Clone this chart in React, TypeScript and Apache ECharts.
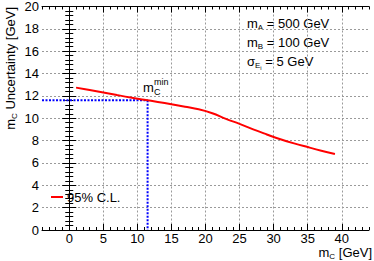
import React, { useEffect, useRef } from "react";
import * as echarts from "echarts";

const xMajor = [0, 5, 10, 15, 20, 25, 30, 35, 40];
const xMinor = [-4, -3, -2, -1, 1, 2, 3, 4, 6, 7, 8, 9, 11, 12, 13, 14, 16, 17, 18, 19, 21, 22, 23, 24, 26, 27, 28, 29, 31, 32, 33, 34, 36, 37, 38, 39, 41, 42, 43, 44];
const curveX = [1, 3, 5, 7, 9, 11, 13, 15, 17, 19, 21, 23, 25, 27, 29, 31, 33, 35, 37, 39];
const curveY = [12.74, 12.53, 12.31, 12.08, 11.86, 11.66, 11.46, 11.25, 11.03, 10.8, 10.45, 9.95, 9.5, 9.0, 8.55, 8.12, 7.75, 7.42, 7.1, 6.8];
const mcMinX = 11.5;
const mcMinY = 11.6;

const FONT = "Liberation Sans, Arial, Helvetica, sans-serif";

type Part = { t: string; size: number; dy: number };

export default function App() {
  const ref = useRef<HTMLDivElement>(null);
  useEffect(() => {
    document.body.style.margin = "0";
    const ctx = document.createElement("canvas").getContext("2d")!;
    const measure = (t: string, size: number) => {
      ctx.font = `${size}px ${FONT}`;
      return ctx.measureText(t).width;
    };
    const seq = (x: number, y: number, parts: Part[], align: "left" | "right" = "left") => {
      const total = parts.reduce((a, p) => a + measure(p.t, p.size), 0);
      let cur = align === "right" ? x - total : x;
      const out: any[] = [];
      for (const p of parts) {
        out.push({
          type: "text",
          x: cur,
          y: y + p.dy,
          style: { text: p.t, fontSize: p.size, fontFamily: FONT, fill: "#000", verticalAlign: "middle", align: "left" },
        });
        cur += measure(p.t, p.size);
      }
      return out;
    };

    const chart = echarts.init(ref.current!, null, { renderer: "svg" });
    const lineBlack = { show: true, lineStyle: { color: "#000", width: 1 } };
    const gridLine = { show: true, lineStyle: { color: "#9a9a9a", width: 1, type: [2, 2] } };
    const baseX = { type: "value", min: -4, max: 44, gridIndex: 0 };

    const graphics: any[] = [
      ...seq(247, 23, [
        { t: "m", size: 13, dy: 0 },
        { t: "A", size: 8, dy: 4 },
        { t: " = 500 GeV", size: 13, dy: 0 },
      ]),
      ...seq(247, 42, [
        { t: "m", size: 13, dy: 0 },
        { t: "B", size: 8, dy: 4 },
        { t: " = 100 GeV", size: 13, dy: 0 },
      ]),
      ...seq(247, 61, [
        { t: "σ", size: 13, dy: 0 },
        { t: "E", size: 8, dy: 4 },
        { t: "i", size: 6, dy: 7 },
        { t: " = 5 GeV", size: 13, dy: 0 },
      ]),
      ...seq(143, 87, [{ t: "m", size: 13, dy: 0 }]),
      ...seq(154, 82, [{ t: "min", size: 9, dy: 0 }]),
      ...seq(154, 92, [{ t: "C", size: 9, dy: 0 }]),
      {
        type: "line",
        shape: { x1: 51, y1: 197, x2: 63, y2: 197 },
        style: { stroke: "#ff0000", lineWidth: 2 },
      },
      ...seq(67, 197, [{ t: "95% C.L.", size: 13, dy: 0 }]),
      ...seq(372, 252, [
        { t: "m", size: 13, dy: 0 },
        { t: "C", size: 8, dy: 4 },
        { t: " [GeV]", size: 13, dy: 0 },
      ], "right"),
      {
        type: "group",
        x: 10,
        y: 7,
        rotation: Math.PI / 2,
        children: seq(0, 0, [
          { t: "m", size: 13, dy: 0 },
          { t: "C", size: 8, dy: 4 },
          { t: " Uncertainty [GeV]", size: 13, dy: 0 },
        ], "right"),
      },
    ];

    chart.setOption({
      animation: false,
      grid: { left: 42, right: 5, top: 5, bottom: 31, show: false },
      xAxis: [
        {
          ...baseX,
          position: "bottom",
          axisLine: lineBlack,
          axisTick: { show: true, inside: true, length: 6, customValues: xMajor, lineStyle: { color: "#000" } },
          axisLabel: { show: true, customValues: xMajor, fontSize: 13, fontFamily: FONT, color: "#000", margin: 2 },
          splitLine: gridLine,
        },
        {
          ...baseX,
          position: "bottom",
          axisLine: { show: false },
          axisTick: { show: true, inside: true, length: 3, customValues: xMinor, lineStyle: { color: "#000" } },
          axisLabel: { show: false },
          splitLine: { show: false },
        },
        {
          ...baseX,
          position: "top",
          axisLine: lineBlack,
          axisTick: { show: true, inside: true, length: 6, customValues: xMajor, lineStyle: { color: "#000" } },
          axisLabel: { show: false },
          splitLine: { show: false },
        },
        {
          ...baseX,
          position: "top",
          axisLine: { show: false },
          axisTick: { show: true, inside: true, length: 3, customValues: xMinor, lineStyle: { color: "#000" } },
          axisLabel: { show: false },
          splitLine: { show: false },
        },
      ],
      yAxis: [
        {
          type: "value",
          min: 0,
          max: 20,
          interval: 2,
          position: "left",
          axisLine: lineBlack,
          axisTick: { show: true, inside: true, length: 7, lineStyle: { color: "#000" } },
          minorTick: { show: true, splitNumber: 5, length: 4, lineStyle: { color: "#000" } },
          axisLabel: { show: true, fontSize: 13, fontFamily: FONT, color: "#000", margin: 3 },
          splitLine: gridLine,
        },
        {
          type: "value",
          min: 0,
          max: 20,
          interval: 2,
          position: "right",
          axisLine: lineBlack,
          axisTick: { show: true, inside: true, length: 7, lineStyle: { color: "#000" } },
          minorTick: { show: true, splitNumber: 5, length: 4, lineStyle: { color: "#000" } },
          axisLabel: { show: false },
          splitLine: { show: false },
        },
      ],
      series: [
        {
          type: "line",
          xAxisIndex: 0,
          yAxisIndex: 0,
          data: [[-4, mcMinY], [mcMinX, mcMinY]],
          showSymbol: false,
          lineStyle: { color: "#0000ff", width: 2, type: [2, 1.5] },
          z: 3,
        },
        {
          type: "line",
          xAxisIndex: 0,
          yAxisIndex: 0,
          data: [[mcMinX, mcMinY], [mcMinX, 0]],
          showSymbol: false,
          lineStyle: { color: "#0000ff", width: 2, type: [2, 1.5] },
          z: 3,
        },
        {
          type: "line",
          xAxisIndex: 0,
          yAxisIndex: 0,
          data: curveX.map((x, i) => [x, curveY[i]]),
          smooth: 0.4,
          showSymbol: false,
          lineStyle: { color: "#ff0000", width: 2 },
          z: 4,
        },
      ],
      graphic: graphics,
    });
    return () => chart.dispose();
  }, []);
  return <div ref={ref} style={{ width: 374, height: 261 }} />;
}
